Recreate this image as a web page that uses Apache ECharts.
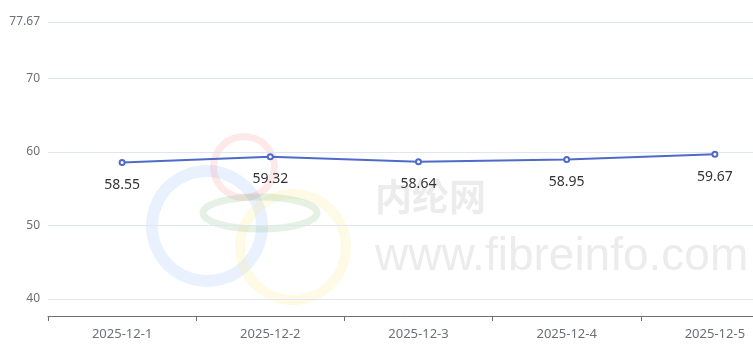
<!DOCTYPE html>
<html><head><meta charset="utf-8">
<script src="https://cdn.jsdelivr.net/npm/echarts@6/dist/echarts.min.js"></script>
<style>html,body{margin:0;padding:0;background:#fff}#c{width:753px;height:360px}</style>
</head><body><div id="c"></div>
<script>
var categories = ['2025-12-1','2025-12-2','2025-12-3','2025-12-4','2025-12-5'];
var values = [58.55, 59.32, 58.64, 58.95, 59.67];
var yMin = 37.67, yMax = 77.67;

var chart = echarts.init(document.getElementById('c'));
chart.setOption({
  animation: false,
  graphic: [
    {type:'ring', shape:{cx:207, cy:226, r:61, r0:49}, style:{fill:'rgba(120,170,255,0.16)'}, z:-10, silent:true},
    {type:'ring', shape:{cx:244, cy:167, r:34, r0:27}, style:{fill:'rgba(240,120,110,0.16)'}, z:-10, silent:true},
    {type:'ring', shape:{cx:293, cy:247, r:58, r0:48}, style:{fill:'rgba(255,225,110,0.18)'}, z:-10, silent:true},
    {type:'ellipse', shape:{cx:260, cy:213, rx:57, ry:16}, style:{fill:'none', stroke:'rgba(110,180,110,0.18)', lineWidth:7}, z:-10, silent:true},
    {type:'text', left:375, top:178, style:{text:'内纶网', font:'bold 37px "Noto Sans CJK SC"', fill:'rgba(200,200,200,0.35)'}, z:-10, silent:true},
    {type:'text', left:375, top:234, style:{text:'www.fibreinfo.com', font:'46px "Liberation Sans", Arial', fill:'rgba(200,200,200,0.35)'}, z:-10, silent:true}
  ],
  grid: {left:48, right:-36, top:22, bottom:44, containLabel:false, outerBoundsMode:'none'},
  xAxis: {
    type:'category', data:categories, boundaryGap:true,
    axisLine:{lineStyle:{color:'#6e7079'}},
    axisTick:{show:true, length:5, lineStyle:{color:'#6e7079'}},
    axisLabel:{color:'#6e7079', fontSize:13, margin:12, fontFamily:'"Noto Sans", sans-serif'}
  },
  yAxis: {
    type:'value', min:yMin, max:yMax,
    axisLabel:{color:'#6e7079', fontSize:12, margin:8, showMinLabel:false, fontFamily:'"Noto Sans", sans-serif'},
    splitLine:{lineStyle:{color:'#e0e6f1'}},
    axisLine:{show:false}, axisTick:{show:false}
  },
  series: [{
    type:'line', data:values,
    symbol:'emptyCircle', symbolSize:5,
    lineStyle:{color:'#4f6bc8', width:2},
    itemStyle:{color:'#4f6bc8'},
    label:{show:true, position:'bottom', distance:12, color:'#333', fontSize:14, fontFamily:'"Noto Sans", sans-serif'}
  }]
});
</script></body></html>
